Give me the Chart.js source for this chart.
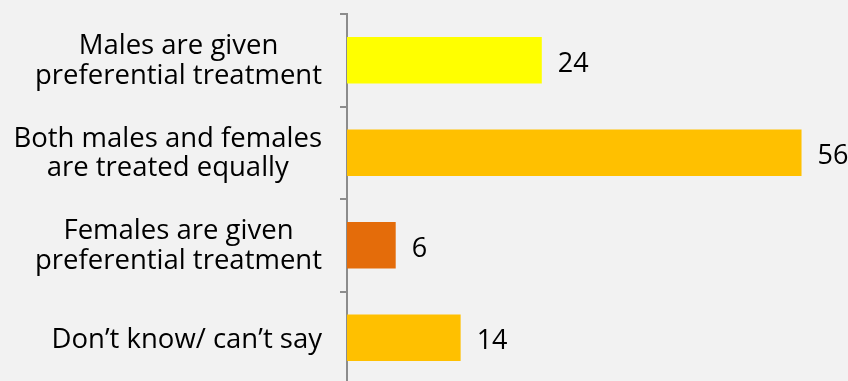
<!DOCTYPE html>
<html><head><meta charset="utf-8">
<script src="https://cdn.jsdelivr.net/npm/chart.js@4"></script>
<style>
html,body{margin:0;padding:0;background:#f2f2f2;overflow:hidden;width:848px;height:381px;}
canvas{display:block;}
</style></head><body>
<canvas id="c" width="848" height="384"></canvas>
<script>
const categories = [
  ["Males are given","preferential treatment"],
  ["Both males and females","are treated equally"],
  ["Females are given","preferential treatment"],
  ["Don\u2019t know/ can\u2019t say"]
];
const values = [24, 56, 6, 14];
const barColors = ["#FFFF00", "#FFC000", "#E46C0A", "#FFC000"];

const FONT = "'Open Sans'";
const FSIZE = 27.5;
const NSIZE = 27;
const LINE = 29.5;

const labelPlugin = {
  id: 'valLabels',
  afterDatasetsDraw(chart) {
    const ctx = chart.ctx;
    const meta = chart.getDatasetMeta(0);
    const yScale = chart.scales.y;
    ctx.save();
    ctx.fillStyle = "#000";
    ctx.textBaseline = "alphabetic";
    // value labels
    ctx.font = NSIZE + "px " + FONT;
    ctx.textAlign = "left";
    meta.data.forEach((bar, i) => {
      ctx.fillText(String(values[i]), bar.x + 16, bar.y + NSIZE * 0.714 / 2 + 2);
    });
    // category labels: block right-aligned, lines centred within block
    ctx.font = FSIZE + "px " + FONT;
    const capH = FSIZE * 0.714;
    const right = yScale.right - 7 - 18;
    ctx.textAlign = "center";
    categories.forEach((lines, i) => {
      const cy = yScale.getPixelForValue(i);
      const blockW = Math.max(...lines.map(l => ctx.measureText(l).width));
      const cx = right - blockW / 2;
      const n = lines.length;
      lines.forEach((l, j) => {
        const by = cy + (j - (n - 1) / 2) * LINE + capH / 2 - (n > 1 ? 1 : 0);
        ctx.fillText(l, cx, by);
      });
    });
    ctx.restore();
  }
};

new Chart(document.getElementById('c'), {
  type: 'bar',
  data: {
    labels: categories,
    datasets: [{ data: values, backgroundColor: barColors, borderWidth: 0, barPercentage: 0.503, categoryPercentage: 1 }]
  },
  options: {
    indexAxis: 'y',
    responsive: false,
    animation: false,
    layout: { padding: { top: 14, right: 14, bottom: 0, left: 0 } },
    plugins: { legend: { display: false }, tooltip: { enabled: false } },
    scales: {
      x: { display: false, min: 0, max: 60 },
      y: {
        afterFit(scale) { scale.width = 347; scale.paddingTop = 0; scale.paddingBottom = 0; },
        border: { display: true, color: '#8c8c8c', width: 2 },
        grid: { display: true, drawOnChartArea: false, offset: true, tickLength: 7, color: '#8c8c8c', lineWidth: 2 },
        ticks: { display: false }
      }
    }
  },
  plugins: [labelPlugin]
});
</script>
</body></html>
